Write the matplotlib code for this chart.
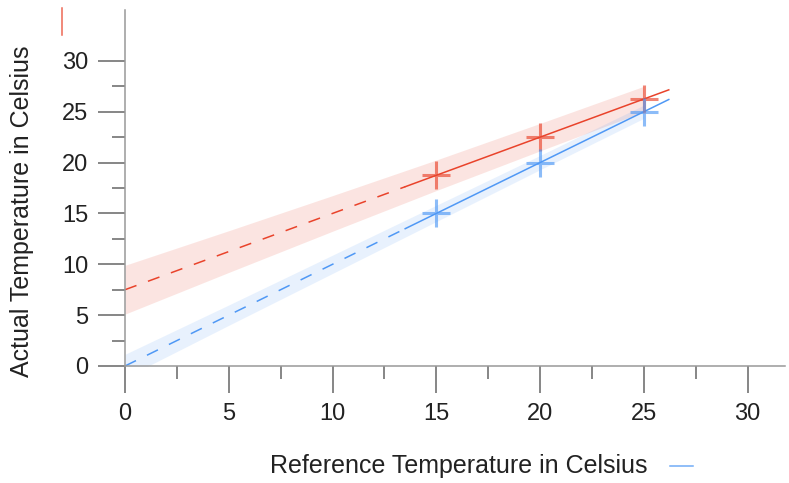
import numpy as np
import matplotlib.pyplot as plt
from matplotlib.lines import Line2D

plt.rcParams['font.family'] = ['Liberation Sans', 'DejaVu Sans']

# Дані: виміряні точки
ref_x = [15, 20, 25]
actual_y = [18.75, 22.5, 26.25]
reference_y = [15, 20, 25]

# Лінії підгонки (пунктир — екстраполяція, суцільна — діапазон даних)
red_dash_x = [0, 13.5]
red_dash_y = [7.5, 17.625]
red_solid_x = [13.5, 26.2]
red_solid_y = [17.625, 27.15]
blue_dash_x = [0, 13.5]
blue_dash_y = [0, 13.5]
blue_solid_x = [13.5, 26.2]
blue_solid_y = [13.5, 26.2]

# Довірчі смуги
band_x = [0, 5, 10, 15, 20, 25]
red_lo = [5.1, 9.2, 13.25, 17.25, 21.15, 25.0]
red_hi = [9.9, 13.3, 16.75, 20.25, 23.85, 27.5]
blue_lo = [-1.15, 4.0, 9.1, 14.2, 19.3, 24.35]
blue_hi = [1.15, 6.0, 10.9, 15.8, 20.7, 25.65]

red = '#e9432b'
blue = '#4f98f5'

fig = plt.figure(figsize=(7.89, 4.83), dpi=100)
ax = fig.add_axes([125 / 789, 1 - 366 / 483, 660 / 789, 356 / 483])

ax.fill_between(band_x, red_lo, red_hi, color=red, alpha=0.14, lw=0)
ax.fill_between(band_x, blue_lo, blue_hi, color=blue, alpha=0.13, lw=0)

ax.plot(red_dash_x, red_dash_y, color=red, lw=1.1, dashes=(8, 8))
ax.plot(red_solid_x, red_solid_y, color=red, lw=1.1)
ax.plot(blue_dash_x, blue_dash_y, color=blue, lw=1.1, dashes=(8, 8))
ax.plot(blue_solid_x, blue_solid_y, color=blue, lw=1.1)

ax.plot(ref_x, actual_y, ls='none', marker='+', ms=20, mew=2.2, color=red, alpha=0.65)
ax.plot(ref_x, reference_y, ls='none', marker='+', ms=20, mew=2.2, color=blue, alpha=0.65)

ax.set_xlim(0, 31.8)
ax.set_ylim(0, 35)
ax.set_xticks([0, 5, 10, 15, 20, 25, 30])
ax.set_yticks([0, 5, 10, 15, 20, 25, 30])
ax.set_xticks(np.arange(2.5, 31, 5), minor=True)
ax.set_yticks(np.arange(2.5, 31, 5), minor=True)

for s in ['top', 'right']:
    ax.spines[s].set_visible(False)
for s in ['left', 'bottom']:
    ax.spines[s].set_color('#999999')
    ax.spines[s].set_linewidth(1.1)

ax.tick_params(which='major', length=19.5, width=1.1, color='#666666',
               labelsize=17, labelcolor='#222222', pad=7)
ax.tick_params(which='minor', length=9.5, width=1.1, color='#666666')

fig.text(459 / 789, 1 - 466 / 483, 'Reference Temperature in Celsius',
         ha='center', va='center', fontsize=18, color='#222222')
fig.text(22 / 789, 1 - 211 / 483, 'Actual Temperature in Celsius',
         ha='center', va='center', rotation=90, fontsize=18, color='#222222')

# Позначки легенди біля підписів осей
fig.add_artist(Line2D([62 / 789, 62 / 789], [1 - 8 / 483, 1 - 35 / 483],
                      color=red, lw=1.1, alpha=0.8))
fig.add_artist(Line2D([670 / 789, 693 / 789], [1 - 466 / 483, 1 - 466 / 483],
                      color=blue, lw=1.1, alpha=0.8))

fig.savefig('out.png', dpi=100)
